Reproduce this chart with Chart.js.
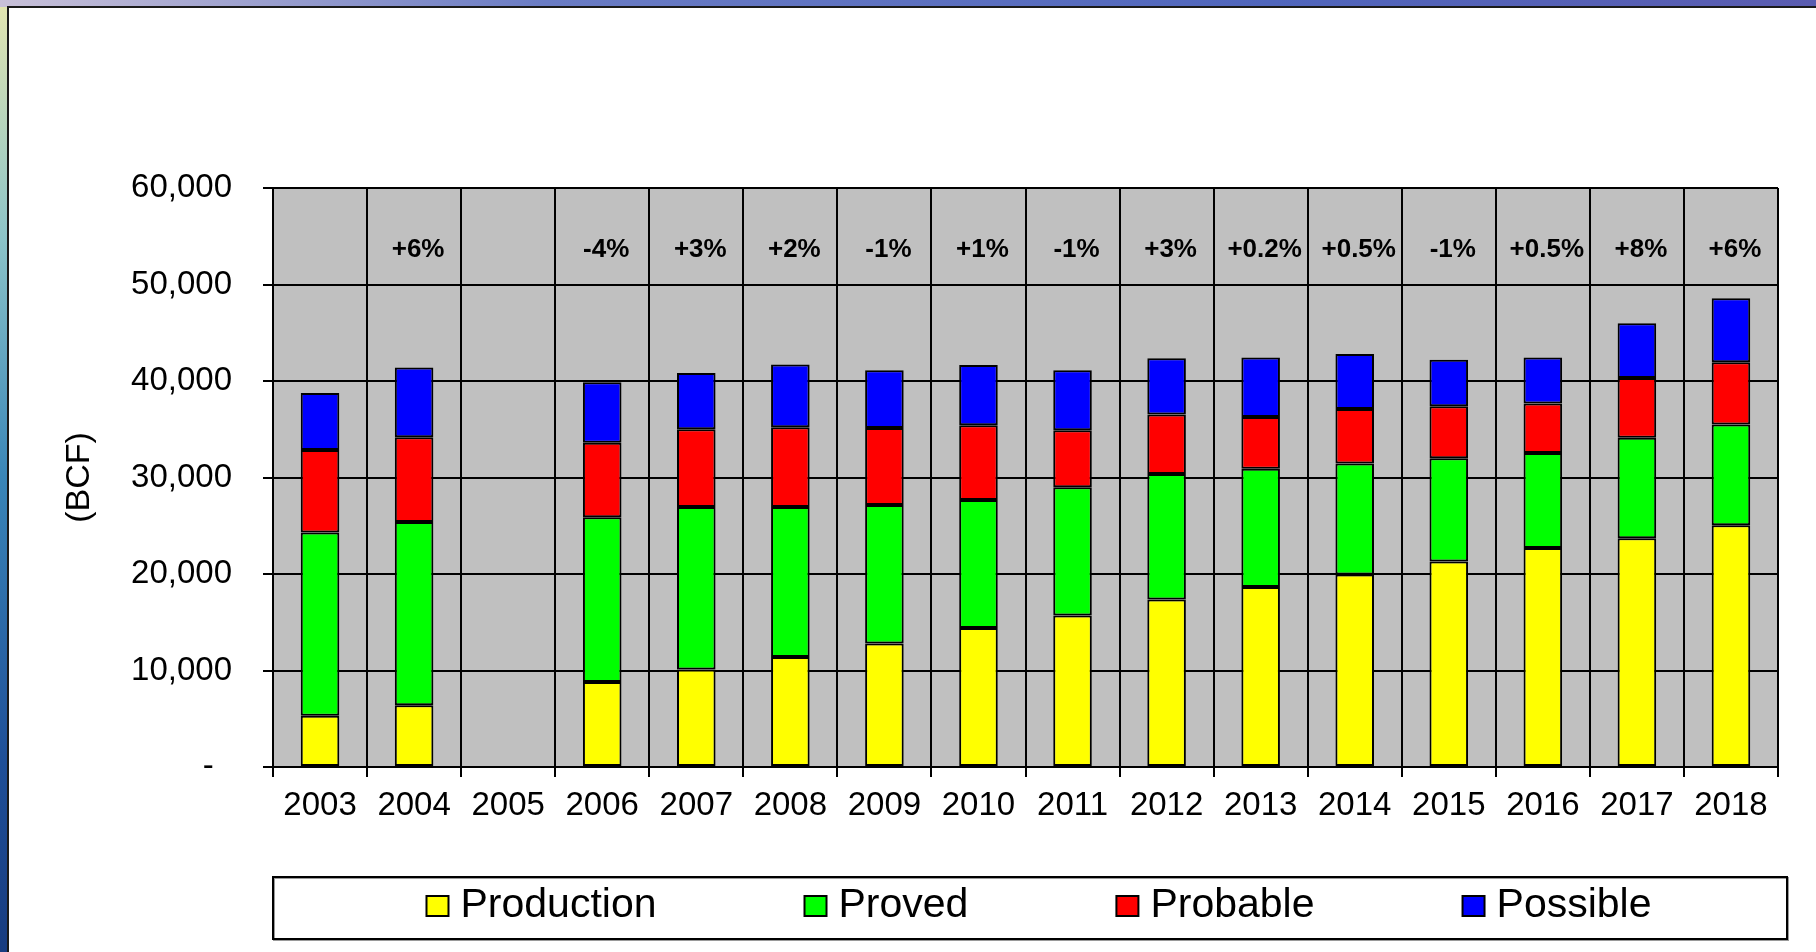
<!DOCTYPE html>
<html>
<head>
<meta charset="utf-8">
<script src="https://cdn.jsdelivr.net/npm/chart.js@4.4.1/dist/chart.umd.min.js"></script>
<style>
    html, body { margin: 0; padding: 0; }
    body {
        width: 1816px; height: 952px; overflow: hidden; position: relative;
        background: linear-gradient(to bottom, #e4e6b0 0%, #8cc4c8 25%, #3a86b8 50%, #1f4f98 80%, #183c80 100%);
    }
    #topStrip {
        position: absolute; left: 0; top: 0; width: 1816px; height: 7px;
        background: linear-gradient(to right, #c8c0d8 0%, #6a7cc4 30%, #5066bc 70%, #5a5cb0 100%);
    }
    #panel {
        position: absolute; left: 7px; top: 6px; right: 0; bottom: 0;
        background: #fff; border-left: 2px solid #1a1a1a; border-top: 2px solid #1a1a1a;
    }
    #chartCanvas { position: absolute; left: 0; top: 0; }
</style>
</head>
<body>
<div id="topStrip"></div>
<div id="panel"></div>
<canvas id="chartCanvas" width="1816" height="952"></canvas>
<script>
// Данные (BCF), 2005 - пусто
const years = ['2003', '2004', '2005', '2006', '2007', '2008', '2009', '2010',
    '2011', '2012', '2013', '2014', '2015', '2016', '2017', '2018'];
const production = [5300, 6400, null, 8800, 10100, 11400, 12800, 14400,
    15700, 17350, 18650, 19950, 21300, 22700, 23700, 25050];
const proved = [19000, 18980, null, 17070, 16840, 15540, 14360, 13280,
    13300, 13010, 12250, 11510, 10700, 9850, 10430, 10430];
const probable = [8550, 8790, null, 7740, 8060, 8270, 7980, 7740,
    5900, 6170, 5380, 5630, 5380, 5120, 6180, 6470];
const possible = [5900, 7220, null, 6250, 5830, 6490, 5970, 6250,
    6210, 5830, 6150, 5700, 4830, 4760, 5670, 6620];
const changes = ['', '+6%', '', '-4%', '+3%', '+2%', '-1%', '+1%',
    '-1%', '+3%', '+0.2%', '+0.5%', '-1%', '+0.5%', '+8%', '+6%'];
const yTicks = [0, 10000, 20000, 30000, 40000, 50000, 60000];

const FONT = '"Liberation Sans", Arial, sans-serif';

// серый фон области графика
const plotBackground = {
    id: 'plotBackground',
    beforeDraw(chart) {
        const {ctx, chartArea: a} = chart;
        ctx.save();
        ctx.fillStyle = '#C0C0C0';
        ctx.fillRect(a.left, a.top, a.right - a.left, a.bottom - a.top);
        ctx.restore();
    }
};

// проценты изменения над столбцами
const changeLabels = {
    id: 'changeLabels',
    afterDatasetsDraw(chart) {
        const {ctx, scales: {x, y}} = chart;
        ctx.save();
        ctx.font = 'bold 26px ' + FONT;
        ctx.fillStyle = '#000';
        ctx.textAlign = 'center';
        ctx.textBaseline = 'middle';
        changes.forEach((t, i) => {
            if (t) ctx.fillText(t, x.getPixelForValue(i) + 4, y.getPixelForValue(53600));
        });
        ctx.restore();
    }
};

// легенда в рамке под графиком
const boxLegend = {
    id: 'boxLegend',
    afterDraw(chart) {
        const {ctx, chartArea: a} = chart;
        const top = 877, bottom = 939;
        const left = a.left, right = a.right + 9;
        ctx.save();
        ctx.strokeStyle = '#9a9a9a';
        ctx.lineWidth = 2;
        ctx.strokeRect(left + 1, top + 1, right - left, bottom - top);
        ctx.strokeStyle = '#000';
        ctx.strokeRect(left, top, right - left, bottom - top);

        ctx.font = '41px ' + FONT;
        ctx.textBaseline = 'middle';
        const boxW = 22, boxH = 20, gapText = 12, gapItem = 148;
        const items = chart.data.datasets.map(ds => ({
            label: ds.label, color: ds.backgroundColor,
            w: boxW + gapText + ctx.measureText(ds.label).width
        }));
        const total = items.reduce((s, it) => s + it.w, 0) + gapItem * (items.length - 1);
        let cx = (left + right) / 2 + 9 - total / 2;
        const cy = 906;
        items.forEach(it => {
            ctx.fillStyle = it.color;
            ctx.fillRect(cx, cy - boxH / 2, boxW, boxH);
            ctx.strokeStyle = '#000';
            ctx.lineWidth = 2;
            ctx.strokeRect(cx, cy - boxH / 2, boxW, boxH);
            ctx.fillStyle = '#000';
            ctx.fillText(it.label, cx + boxW + gapText, cy);
            cx += it.w + gapItem;
        });
        ctx.restore();
    }
};

const barStyle = {
    borderColor: '#000',
    borderWidth: 2,
    borderSkipped: false,
    categoryPercentage: 1,
    barPercentage: 0.41
};

document.addEventListener('DOMContentLoaded', () => {
    const ctx = document.getElementById('chartCanvas').getContext('2d');
    new Chart(ctx, {
        type: 'bar',
        data: {
            labels: years,
            datasets: [
                {label: 'Production', data: production, backgroundColor: '#FFFF00', ...barStyle},
                {label: 'Proved', data: proved, backgroundColor: '#00FF00', ...barStyle},
                {label: 'Probable', data: probable, backgroundColor: '#FF0000', ...barStyle},
                {label: 'Possible', data: possible, backgroundColor: '#0000FF', ...barStyle}
            ]
        },
        options: {
            responsive: false,
            animation: false,
            devicePixelRatio: 1,
            layout: {padding: {left: 0, top: 188, right: 38, bottom: 85}},
            plugins: {
                legend: {display: false},
                tooltip: {enabled: false}
            },
            scales: {
                x: {
                    stacked: true,
                    ticks: {
                        color: '#000',
                        font: {family: FONT, size: 33},
                        padding: 9,
                        maxRotation: 0
                    },
                    grid: {color: '#000', lineWidth: 2, tickLength: 10, offset: true},
                    border: {color: '#000', width: 2},
                    afterFit: s => { s.height = 100; }
                },
                y: {
                    stacked: true,
                    min: 0,
                    max: 60000,
                    afterBuildTicks: s => { s.ticks = yTicks.map(v => ({value: v})); },
                    ticks: {
                        color: '#000',
                        font: {family: FONT, size: 33},
                        padding: 31,
                        callback: v => v === 0 ? '-  ' : v.toLocaleString('en-US')
                    },
                    grid: {color: '#000', lineWidth: 2, tickLength: 10},
                    border: {color: '#000', width: 2},
                    title: {
                        display: true,
                        text: '(BCF)',
                        color: '#000',
                        font: {family: FONT, size: 34},
                        padding: {top: 59, bottom: 0}
                    },
                    afterFit: s => { s.width = 273; }
                }
            }
        },
        plugins: [plotBackground, changeLabels, boxLegend]
    });
});
</script>
</body>
</html>
